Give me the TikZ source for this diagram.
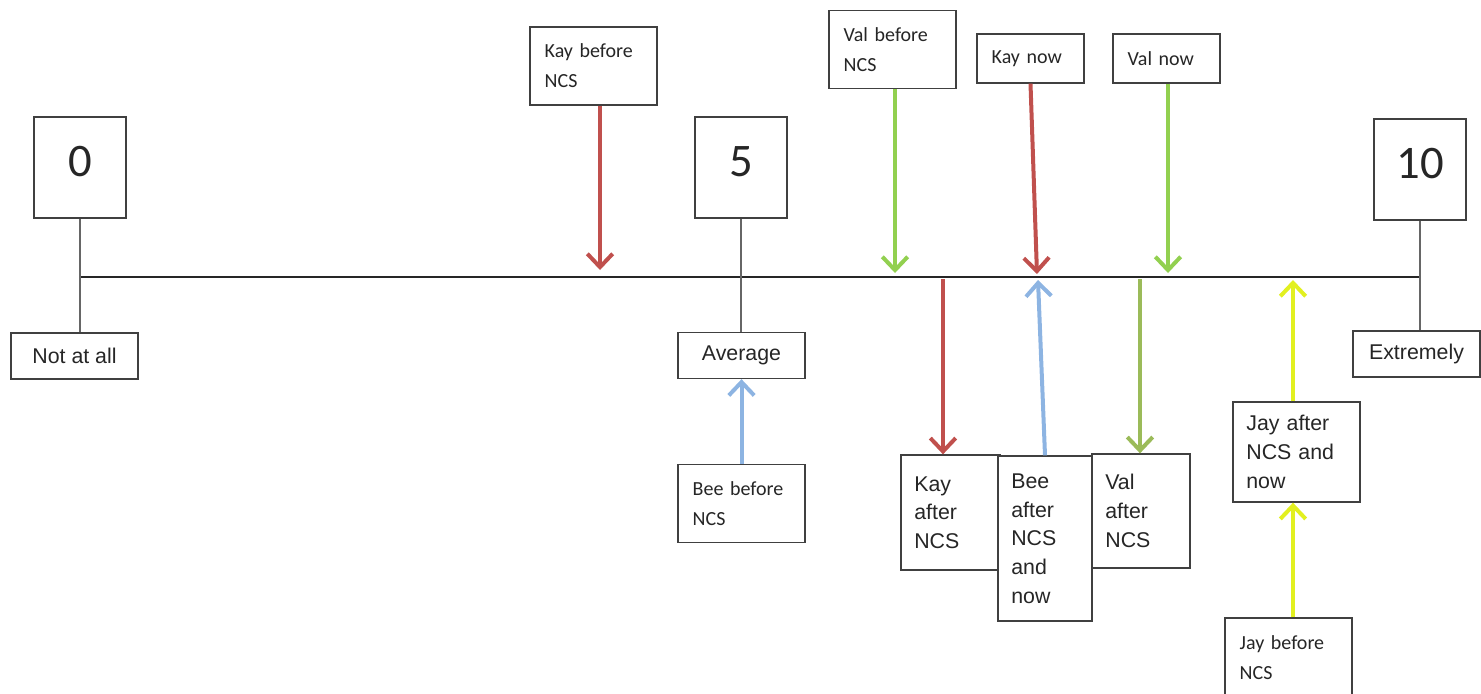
\documentclass[tikz,border=0pt]{standalone}
\usepackage{fontspec}
\setmainfont{Liberation Sans}
\newfontfamily\calib{Carlito}
\usetikzlibrary{arrows.meta}
\definecolor{kayred}{HTML}{C0504D}
\definecolor{valgreen}{HTML}{92D050}
\definecolor{olivegreen}{HTML}{9BBB59}
\definecolor{beeblue}{HTML}{8DB4E2}
\definecolor{jayyellow}{HTML}{E2F020}

\begin{document}
\begin{tikzpicture}[x=0.75pt,y=-0.75pt,
  numbox/.style={draw=black!75,line width=1pt,fill=white,minimum width=69pt,
    minimum height=75.75pt,text depth=9pt,text=black!85,
    font=\calib\fontsize{35}{40}\selectfont},
  lblbox/.style={draw=black!75,line width=1pt,fill=white,minimum width=95.25pt,
    minimum height=34.5pt,text=black!85,font=\fontsize{16}{21.5}\selectfont},
  cnote/.style={draw=black!75,line width=1pt,fill=white,align=left,inner xsep=11pt,
    text width=#1,text=black!85,font=\calib\fontsize{15}{22.5}\selectfont},
  anote/.style={draw=black!75,line width=1pt,fill=white,align=left,inner xsep=10pt,
    text width=#1,text=black!85,font=\fontsize{16}{21.5}\selectfont},
  pin/.style={line width=3pt,-{Straight Barb[length=10pt,width=19pt]}},
  tickline/.style={black!60,line width=1.1pt}]
\useasboundingbox (0,0) rectangle (1481,693);
%% Scale line
\coordinate (axL) at (80,277);
\coordinate (axR) at (1420,277);
\draw[black!85,line width=1.1pt] (axL) -- (axR);
%% Scale points: number box, tick, label box
\foreach \nm/\x/\ny/\num/\lx/\ly/\lbl in {z/80/167.5/0/74.5/356/Not at all,
                                          m/741/167.5/5/741.5/355.5/Average,
                                          t/1420/169.5/10/1416.5/354/Extremely} {
   \node[numbox] (num\nm) at (\x,\ny) {\num};
   \node[lblbox] (lbl\nm) at (\lx,\ly) {\lbl};
   \draw[tickline] (num\nm.south) -- (num\nm.south |- lbl\nm.north);
}
%% Notes above the line
\node[cnote=73.25pt,minimum height=58.5pt] (kayB) at (593.5,66) {Kay before\\NCS};
\node[cnote=73.25pt,minimum height=58.5pt] (valB) at (892.5,49.5) {Val before\\NCS};
\node[cnote=58.25pt,minimum height=36.75pt] (kayN) at (1030.5,58.5) {Kay now};
\node[cnote=58.25pt,minimum height=36.75pt] (valN) at (1166.5,58.5) {Val now};
%% Notes below the line
\node[cnote=73.25pt,minimum height=58.5pt] (beeB) at (741.5,503.5) {Bee before\\NCS};
\node[anote=54.25pt,minimum height=86.25pt] (kayA) at (950.5,512.5) {Kay\\after\\NCS};
\node[anote=53.5pt,minimum height=85.5pt] (valA) at (1141,511) {Val\\after\\NCS};
\node[anote=50.5pt,minimum height=123.75pt] (beeA) at (1045,538.5) {Bee\\after\\NCS\\and\\now};
\node[anote=75.25pt,minimum height=75pt] (jayA) at (1296.5,452) {Jay after\\NCS and\\now};
\node[cnote=73.25pt,minimum height=59.25pt] (jayB) at (1288.5,657.5) {Jay before\\NCS};
%% Points on the line
\coordinate (tKB) at (600,270);
\coordinate (tVB) at (895,273);
\coordinate (tKN) at (1037,274);
\coordinate (tVN) at (1168,273);
\coordinate (sKA) at (943,279);
\coordinate (tBA) at (1038,280);
\coordinate (sVA) at (1140,279);
\coordinate (tJA) at (1293,280);
%% Arrows
\draw[pin,kayred] (kayB.south -| tKB) -- (tKB);
\draw[pin,valgreen] (valB.south -| tVB) -- (tVB);
\draw[pin,kayred] (kayN.south) -- (tKN);
\draw[pin,valgreen] (valN.south -| tVN) -- (tVN);
\draw[pin,kayred] (sKA) -- (sKA |- kayA.north);
\draw[pin,beeblue] (beeA.north) -- (tBA);
\draw[pin,olivegreen] (sVA) -- (sVA |- valA.north);
\draw[pin,beeblue] (beeB.north) -- (lblm.south);
\draw[pin,jayyellow] (jayA.north -| tJA) -- (tJA);
\draw[pin,jayyellow] (jayB.north -| tJA) -- (jayA.south -| tJA);
\end{tikzpicture}
\end{document}
